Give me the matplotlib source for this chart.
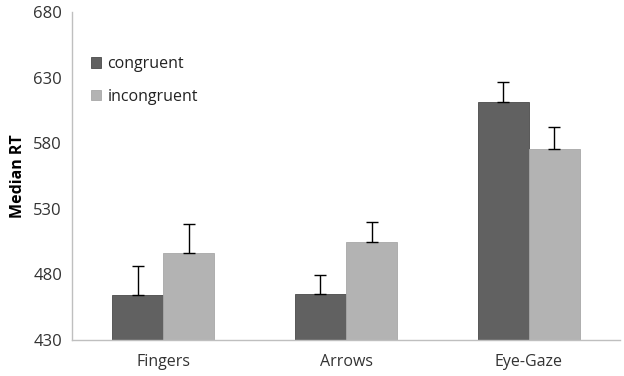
import matplotlib
matplotlib.use("Agg")
import matplotlib.pyplot as plt
import numpy as np

categories = ["Fingers", "Arrows", "Eye-Gaze"]
congruent = [464.3, 465.3, 611.1]
incongruent = [496.5, 504.5, 575.8]
congruent_err = [22.0, 14.2, 15.8]
incongruent_err = [22.0, 15.7, 16.3]
yticks = [430, 480, 530, 580, 630, 680]

plt.rcParams['font.family'] = ['Open Sans', 'DejaVu Sans']

fig = plt.figure(figsize=(6.24, 3.76), dpi=100)
ax = fig.add_axes([0.115, 0.096, 0.879, 0.872])

x = np.arange(len(categories))
w = 0.28
err_kw = dict(ecolor='black', elinewidth=1.0, capsize=4, capthick=1.0)
ax.bar(x - w/2, congruent, w, color='#616161', edgecolor='#4a4a4a', linewidth=0.6,
       yerr=[np.zeros(3), congruent_err], error_kw=err_kw, label='congruent')
ax.bar(x + w/2, incongruent, w, color='#b3b3b3', edgecolor='#a8a8a8', linewidth=0.6,
       yerr=[np.zeros(3), incongruent_err], error_kw=err_kw, label='incongruent')

ax.set_ylim(430, 680)
ax.set_xlim(-0.5, 2.5)
ax.set_yticks(yticks)
ax.set_xticks(x)
ax.set_xticklabels(categories)
ax.tick_params(axis='y', length=0, labelsize=12, colors='#333333', pad=7)
ax.tick_params(axis='x', length=0, labelsize=11.5, colors='#333333', pad=10)
for s in ['top', 'right']:
    ax.spines[s].set_visible(False)
for s in ['left', 'bottom']:
    ax.spines[s].set_color('#bfbfbf')
    ax.spines[s].set_linewidth(1.0)
ax.set_ylabel('Median RT', fontsize=11.5, fontweight='bold', labelpad=5)

leg = ax.legend(loc='upper left', bbox_to_anchor=(0.008, 0.91), frameon=False, fontsize=11.5,
                handlelength=0.65, handleheight=0.65, handletextpad=0.4, labelspacing=1.05)
for t in leg.get_texts():
    t.set_color('#222222')

fig.savefig('out.png', dpi=100)
